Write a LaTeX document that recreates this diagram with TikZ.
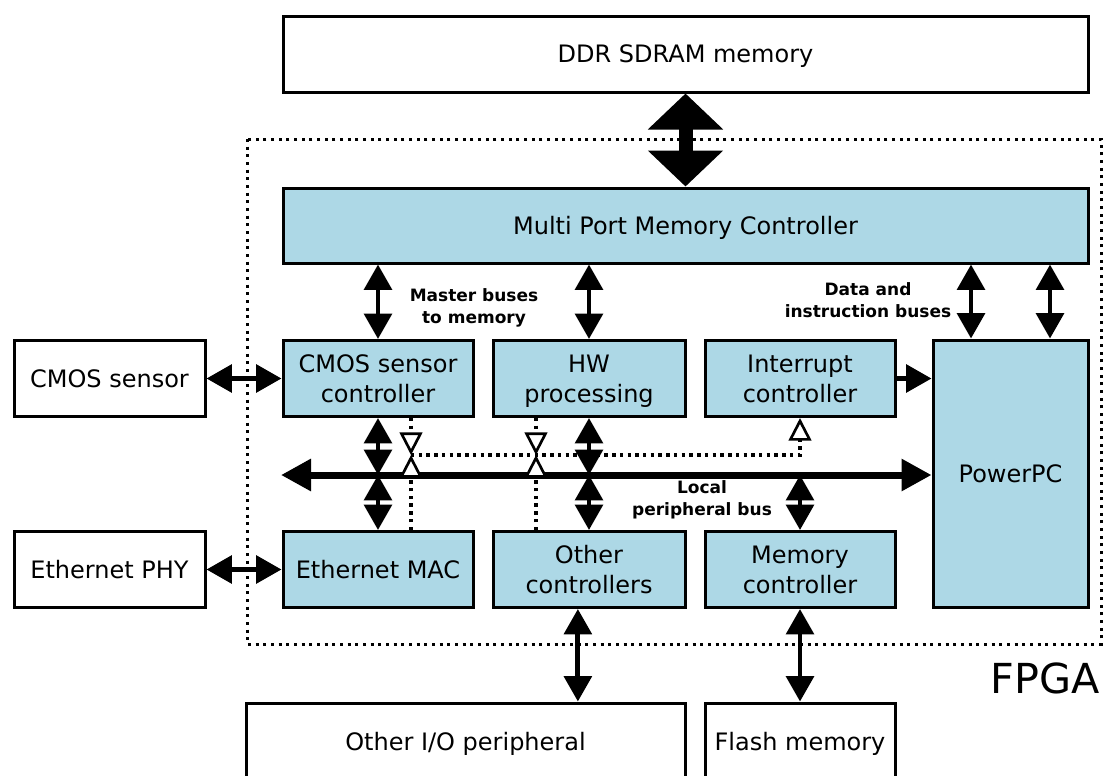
\documentclass[tikz,border=0pt]{standalone}
\usepackage{fontspec}
\setmainfont{DejaVu Sans}
\usetikzlibrary{arrows.meta,calc}
\definecolor{blockblue}{RGB}{173,216,230}
\newcommand\blkfont{\fontsize{18}{22.5}\selectfont}
\newcommand\lblfont{\fontsize{12.75}{16.5}\selectfont\bfseries}

\begin{document}
\begin{tikzpicture}[x=0.75pt,y=-0.75pt,
  blk/.style={draw, line width=2.25pt, fill=blockblue, align=center,
    inner sep=0pt, text depth=0pt, font=\blkfont},
  ext/.style={blk, fill=white},
  small/.style={minimum width=142.5pt, minimum height=57pt},
  dotline/.style={line width=2.25pt, dash pattern=on 2.25pt off 3.5pt},
  dbl/.style={line width=3.6pt,
    {Triangle[width=20.5pt,length=19pt]}-{Triangle[width=20.5pt,length=19pt]}},
  single/.style={line width=3.6pt, -{Triangle[width=20.5pt,length=19pt]}},
  big/.style={line width=10.5pt,
    {Triangle[width=55pt,length=27pt]}-{Triangle[width=55pt,length=27pt]}},
  bus/.style={line width=5.25pt,
    {Triangle[width=23pt,length=22.5pt]}-{Triangle[width=23pt,length=22.5pt]}},
  irq/.style={line width=2.6pt, dash pattern=on 2.6pt off 3.2pt,
    -{Triangle[width=17pt,length=17pt,fill=white,line width=2pt]}},
  lbl/.style={align=center, inner sep=0pt, font=\lblfont}]

\useasboundingbox (0,0) rectangle (1105,775);
\clip (0,0) rectangle (1105,775);

% FPGA boundary
\draw[dotline] (247,139) rectangle (1101,644);
\node[font=\fontsize{31}{31}\selectfont, inner sep=0pt] (fpga) at (1045,678) {FPGA};

% external memory and peripherals
\node[ext, minimum width=603.75pt, minimum height=57pt] (ddr) at (685.5,54) {DDR SDRAM memory};
\node[ext, small, minimum width=143.25pt] (cmos) at (109.5,378.5) {CMOS sensor};
\node[ext, small, minimum width=143.25pt] (ephy) at (109.5,569.5) {Ethernet PHY};
\node[ext, minimum width=329.25pt, minimum height=57.75pt] (oio) at (465.5,741.5) {Other I/O peripheral};
\node[ext, small, minimum height=57.75pt] (flash) at (800,741.5) {Flash memory};

% blocks inside the FPGA
\node[blk, minimum width=603.75pt, minimum height=56.25pt] (mpmc) at (685.5,225.5) {Multi Port Memory Controller};
\node[blk, small] (cmosc) at (378,378.5) {CMOS sensor\\controller};
\node[blk, small, minimum width=144pt] (hw) at (589,378.5) {HW\\processing};
\node[blk, small] (intc) at (800,378.5) {Interrupt\\controller};
\node[blk, minimum width=116.25pt, minimum height=200.25pt] (ppc) at (1010.5,473.5) {PowerPC};
\node[blk, small] (emac) at (378,569.5) {Ethernet MAC};
\node[blk, small, minimum width=144pt] (other) at (589,569.5) {Other\\controllers};
\node[blk, small] (memc) at (800,569.5) {Memory\\controller};

% bus labels
\node[lbl] (mlbl) at (474,308) {Master buses\\to memory};
\node[lbl] (dlbl) at (868,300.5) {Data and\\instruction buses};
\node[lbl] (blbl) at (702,500) {Local\\peripheral bus};

% memory connection
\draw[big] (ddr.south) -- (mpmc.north);

% master and processor buses
\coordinate (pa) at ($(ppc.north west)!0.25!(ppc.north east)$);
\coordinate (pb) at ($(ppc.north west)!0.75!(ppc.north east)$);
\draw[dbl] (cmosc.north |- mpmc.south) -- (cmosc.north);
\draw[dbl] (hw.north |- mpmc.south) -- (hw.north);
\draw[dbl] (pa |- mpmc.south) -- (pa);
\draw[dbl] (pb |- mpmc.south) -- (pb);

% external links
\draw[dbl] (cmos.east) -- (cmosc.west);
\draw[dbl] (ephy.east) -- (emac.west);
\coordinate (oc) at ($(other.south west)!0.443!(other.south east)$);
\draw[dbl] (oc) -- (oc |- oio.north);
\draw[dbl] (memc.south) -- (flash.north);

% interrupt to processor
\draw[single] (intc.east) -- (intc.east -| ppc.west);

% local peripheral bus
\coordinate (busL) at (281,475);
\coordinate (busR) at (ppc.west |- busL);
\draw[bus] (busL) -- (busR);

% interrupt lines
\coordinate (j1) at (411,455);
\coordinate (j2) at (536,455);
\draw[irq] (j1 |- cmosc.south) -- (j1);
\draw[irq] (j1 |- emac.north) -- (j1);
\draw[irq] (j2 |- hw.south) -- (j2);
\draw[irq] (j2 |- other.north) -- (j2);
\draw[irq] (j1) -- (j1 -| intc.south) -- (intc.south);

% bus taps
\draw[dbl] (cmosc.south) -- (cmosc.south |- busL);
\draw[dbl] (cmosc.south |- busL) -- (emac.north);
\draw[dbl] (hw.south) -- (hw.south |- busL);
\draw[dbl] (hw.south |- busL) -- (other.north);
\draw[dbl] (memc.north |- busL) -- (memc.north);
\end{tikzpicture}
\end{document}
